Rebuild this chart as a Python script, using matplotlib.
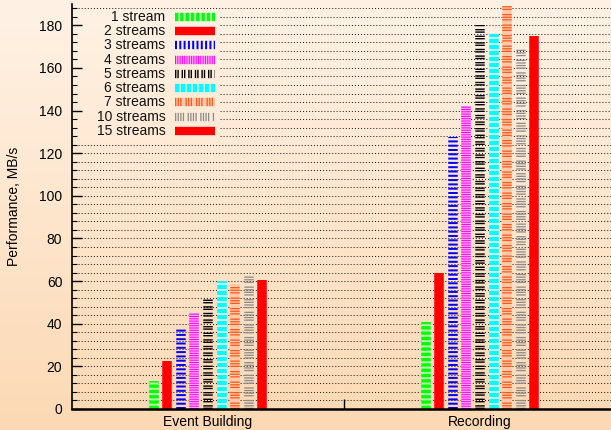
import numpy as np
import matplotlib
matplotlib.use("Agg")
import matplotlib.pyplot as plt

plt.rcParams['font.family'] = ['Liberation Sans', 'DejaVu Sans']
plt.rcParams['lines.scale_dashes'] = False

# ---- data -------------------------------------------------------------
groups = ['Event Building', 'Recording']
series = ['1 stream', '2 streams', '3 streams', '4 streams', '5 streams',
          '6 streams', '7 streams', '10 streams', '15 streams']
event_building = [13, 22.5, 38, 45, 52, 60, 58.5, 62.5, 60.5]
recording = [41, 64, 127.5, 142, 180, 176, 189, 169, 175]
y_ticks = list(range(0, 181, 20))

# ---- styles -----------------------------------------------------------
PX = 0.72  # points per pixel at 100 dpi
colors = ['#00ff00', '#ff0000', '#0000ff', '#ff00ff', '#000000',
          '#00ffff', '#ff5a1a', '#8c8c8c', '#ff0000']
underlay = ['#b8f7b0', None, None, '#f7a8ec', None,
            '#c6f9f2', '#ffc8a8', None, None]
dash_px = [(3.3, 2.0), None, (2.0, 2.3), (1.0, 1.3), (1.4, 1.0, 1.4, 2.8),
           (4.0, 2.0), (1.3, 1.3, 1.3, 1.3, 1.3, 4.0),
           (1.3, 1.3, 1.3, 1.3, 1.3, 1.3, 1.3, 3.5), None]
bar_lw = 9.5 * PX
step = 0.05


def style(i):
    if dash_px[i] is None:
        return dict(linestyle='-')
    return dict(linestyle=(0, tuple(d * PX for d in dash_px[i])))


fig = plt.figure(figsize=(6.11, 4.30), dpi=100)

# soft vertical background gradient
bg = fig.add_axes([0, 0, 1, 1], zorder=-5)
top = np.array([255, 242, 229]) / 255
bot = np.array([252, 217, 180]) / 255
t = np.linspace(0, 1, 256)[:, None, None]
grad = top * (1 - t) + bot * t
bg.imshow(grad, aspect='auto', extent=[0, 1, 0, 1])
bg.axis('off')

ax = fig.add_axes([72 / 611, 21 / 430, 544 / 611, 405 / 430])
ax.set_facecolor('none')
ax.set_xlim(-0.5, 1.5)
ax.set_ylim(0, 190)

# dotted grid, kept clear of the key area in the upper left
key_right = 0.045
for v in range(4, 190, 4):
    x0 = key_right if 128 <= v <= 184 else -0.5
    ax.hlines(v, x0, 1.5, colors='black', linewidth=0.75,
              linestyles=(0, (0.75, 1.45)), alpha=0.85, zorder=1)

# bars as thick patterned impulses
values = [event_building, recording]
for g, vals in enumerate(values):
    for i, v in enumerate(vals):
        x = g + (i - 4) * step
        if underlay[i]:
            ax.plot([x, x], [0, v], color=underlay[i], linewidth=bar_lw,
                    solid_capstyle='butt', zorder=2)
        ax.plot([x, x], [0, v], color=colors[i], linewidth=bar_lw,
                solid_capstyle='butt', dash_capstyle='butt', zorder=3,
                **style(i))

# key: right-aligned labels with horizontal pattern samples
for i, name in enumerate(series):
    yf = 1 - (16.7 + 14.28 * i - 4) / 405
    ax.annotate(name, xy=(-0.156, yf), xycoords=('data', 'axes fraction'),
                ha='right', va='center', fontsize=10, color='#111111')
    xs = [-0.123, 0.024]
    if underlay[i]:
        ax.plot(xs, [yf, yf], transform=ax.get_xaxis_transform(),
                color=underlay[i], linewidth=bar_lw * 0.88,
                solid_capstyle='butt', zorder=2)
    ax.plot(xs, [yf, yf], transform=ax.get_xaxis_transform(),
            color=colors[i], linewidth=bar_lw * 0.88, solid_capstyle='butt',
            dash_capstyle='butt', zorder=3, **style(i))

# axes decoration
ax.set_yticks(y_ticks)
ax.set_yticks(range(0, 190, 4), minor=True)
ax.tick_params(axis='y', which='major', direction='in', length=7, width=1,
               labelsize=10, pad=7)
ax.tick_params(axis='y', which='minor', direction='in', length=3.5, width=0.8)
ax.set_xticks([0, 1])
ax.set_xticklabels(groups)
ax.set_xticks([0.5], minor=True)
ax.tick_params(axis='x', which='major', length=0, labelsize=10, pad=4)
ax.tick_params(axis='x', which='minor', direction='in', length=7, width=1)
ax.set_ylabel('Performance, MB/s', fontsize=10)
ax.yaxis.label.set_va('center')
ax.yaxis.set_label_coords((14 - 72) / 544, 0.5)

for s in ('top', 'right'):
    ax.spines[s].set_visible(False)
ax.spines['left'].set_linewidth(1.2)
ax.spines['bottom'].set_linewidth(1.8)
ax.spines['bottom'].set_zorder(5)

fig.savefig('out.png', dpi=100)
